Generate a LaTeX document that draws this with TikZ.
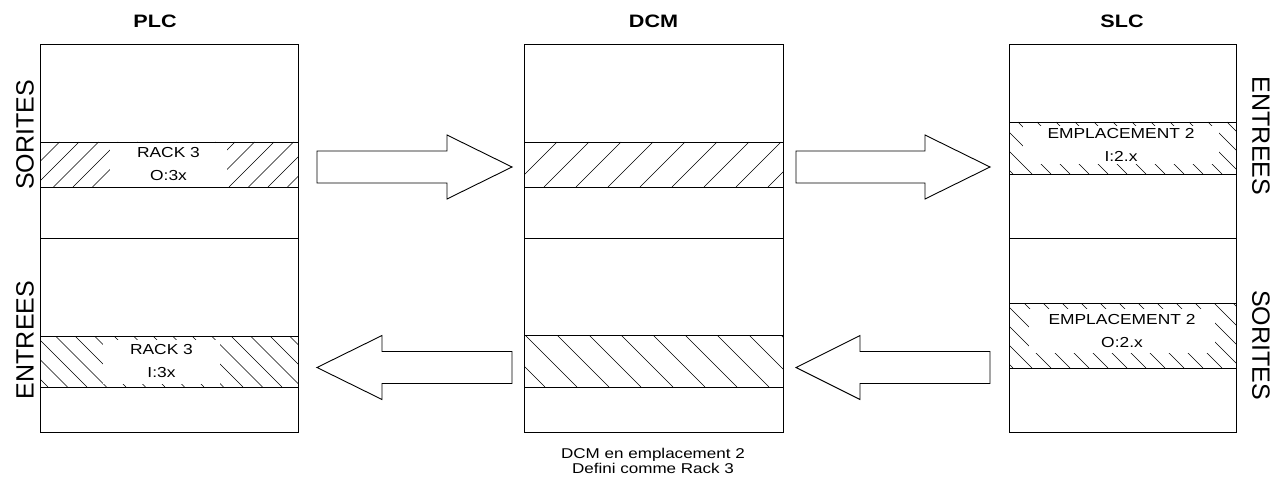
\documentclass[tikz,border=0pt]{standalone}
\usepackage{fontspec}
\setmainfont{Liberation Sans}
\newfontfamily\widefont[FakeStretch=1.2]{Liberation Sans}

% hatching of a band: x1, y1, x2, y2, spacing, phase
\newcommand{\hatchup}[6]{%
  \begin{scope}
    \clip (#1,#2) rectangle (#3,#4);
    \pgfmathsetmacro\hb{#4-#2}
    \pgfmathsetmacro\hstart{#1-\hb+#6}
    \pgfmathsetmacro\hnext{\hstart+#5}
    \foreach \hx in {\hstart,\hnext,...,#3}{
      \draw[hatchline] (\hx,#4) -- ++(\hb,-\hb);
    }
  \end{scope}}
\newcommand{\hatchdown}[6]{%
  \begin{scope}
    \clip (#1,#2) rectangle (#3,#4);
    \pgfmathsetmacro\hb{#4-#2}
    \pgfmathsetmacro\hstart{#1-\hb+#6}
    \pgfmathsetmacro\hnext{\hstart+#5}
    \foreach \hx in {\hstart,\hnext,...,#3}{
      \draw[hatchline] (\hx,#2) -- ++(\hb,\hb);
    }
  \end{scope}}
% block arrows: shaft start, head base, tip, centre line
\newcommand{\blockarrow}[4]{%
  \draw[blockarrow] (#1,#4-16) -- (#2,#4-16) -- (#2,#4-32) -- (#3,#4)
    -- (#2,#4+32) -- (#2,#4+16) -- (#1,#4+16) -- cycle;}

\begin{document}
\begin{tikzpicture}[x=1pt,y=-1pt,
  frame/.style={draw=black,line width=0.9pt},
  hatchline/.style={draw=black,line width=0.55pt},
  blockarrow/.style={draw=black,line width=0.9pt,fill=white,line join=miter},
  header/.style={font=\widefont\fontsize{18}{20}\selectfont\bfseries,inner sep=0pt},
  sidelabel/.style={font=\fontsize{25}{28}\selectfont,inner sep=0pt},
  tag/.style={font=\widefont\fontsize{14.5}{23}\selectfont,align=center,fill=white,inner sep=0pt},
  caption/.style={font=\widefont\fontsize{14.2}{15.5}\selectfont,align=center,inner sep=0pt},
  ]
\useasboundingbox (0,0) rectangle (1282,484);
\fill[white] (0,0) rectangle (1282,484);

% ---- hatched bands ----
\hatchup{40}{142}{298}{187}{19.5}{0}
\hatchdown{40}{336}{298}{387}{19.5}{8}
\hatchup{524}{142}{783}{187}{32}{1}
\hatchdown{524}{335}{783}{387}{32}{21}
\hatchdown{1009}{122}{1236}{174}{19}{4}
\hatchdown{1009}{303}{1236}{368}{19}{4}

% ---- band captions ----
\node[tag,minimum width=117,minimum height=44] (plcout) at (168.5,164.5) {RACK 3\\O:3x};
\node[tag,minimum width=117,minimum height=44] (plcin) at (161.5,361.5) {RACK 3\\I:3x};
\node[tag,minimum width=196,minimum height=38] (slcin) at (1121,145) {EMPLACEMENT 2\\I:2.x};
\node[tag,minimum width=186,minimum height=44] (slcout) at (1122,331) {EMPLACEMENT 2\\O:2.x};

% ---- PLC ----
\draw[frame] (40,44) rectangle (298,432);
\draw[frame] (40,142) -- (298,142) (40,187) -- (298,187);
\draw[frame] (40,238) -- (298,238);
\draw[frame] (40,336) -- (298,336) (40,387) -- (298,387);

% ---- DCM ----
\draw[frame] (524,44) rectangle (783,432);
\draw[frame] (524,142) -- (783,142) (524,187) -- (783,187);
\draw[frame] (524,238) -- (783,238);
\draw[frame] (524,335) -- (783,335) (524,387) -- (783,387);

% ---- SLC ----
\draw[frame] (1009,44) rectangle (1236,432);
\draw[frame] (1009,122) -- (1236,122) (1009,174) -- (1236,174);
\draw[frame] (1009,238) -- (1236,238);
\draw[frame] (1009,303) -- (1236,303) (1009,368) -- (1236,368);

% ---- data flow ----
\blockarrow{317}{447}{512}{167}
\blockarrow{796}{925}{990}{167}
\blockarrow{512}{382}{317}{367.5}
\blockarrow{990}{860}{796}{367.5}

% ---- titles ----
\node[header] (plc) at (155,21.5) {PLC};
\node[header] (dcm) at (653.5,21.5) {DCM};
\node[header] (slc) at (1122,21.5) {SLC};

\node[sidelabel,rotate=90] (plcsor) at (25,135) {SORITES};
\node[sidelabel,rotate=90] (plcent) at (25,340) {ENTREES};
\node[sidelabel,rotate=-90] (slcent) at (1261,136) {ENTREES};
\node[sidelabel,rotate=-90] (slcsor) at (1261,345) {SORITES};

\node[caption] (note) at (653,461) {DCM en emplacement 2\\Defini comme Rack 3};
\end{tikzpicture}
\end{document}
